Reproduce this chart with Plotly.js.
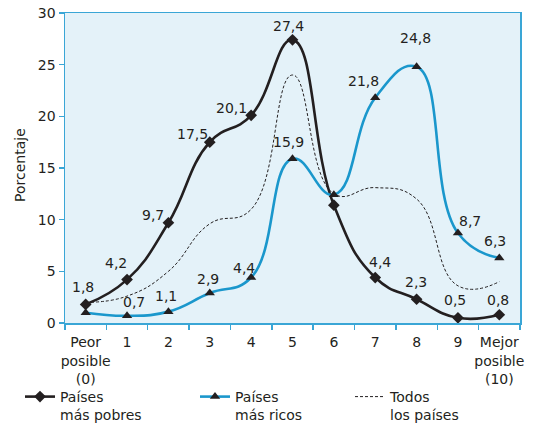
<!DOCTYPE html>
<html>
<head>
<meta charset="utf-8">
<script src="https://cdn.plot.ly/plotly-3.0.1.min.js"></script>
<style>html,body{margin:0;padding:0;background:#fff;}#chart{width:538px;height:438px;}</style>
</head>
<body>
<div id="chart"></div>
<script>
// ---- data ----
var categories = ["Peor<br>posible<br>(0)", "1", "2", "3", "4", "5", "6", "7", "8", "9", "Mejor<br>posible<br>(10)"];
var pobres = [1.8, 4.2, 9.7, 17.5, 20.1, 27.4, 11.4, 4.4, 2.3, 0.5, 0.8];
var ricos = [1.0, 0.7, 1.1, 2.9, 4.4, 15.9, 12.4, 21.8, 24.8, 8.7, 6.3];
var todos = [2.0, 2.6, 5.0, 9.6, 11.0, 24.0, 12.5, 13.1, 12.0, 3.6, 4.0];
var pobresLabels = ["1,8", "4,2", "9,7", "17,5", "20,1", "27,4", "", "4,4", "2,3", "0,5", "0,8"];
var ricosLabels = ["", "0,7", "1,1", "2,9", "4,4", "15,9", "", "21,8", "24,8", "8,7", "6,3"];
var seriesNames = ["Países<br>más pobres", "Países<br>más ricos", "Todos<br>los países"];
var yTitle = "Porcentaje";

// ---- styles ----
var txt = "#231f20", blue = "#1a97cc", frame = "#3aa6d6";
var FONT = "DejaVu Sans";
var pobresShift = [[-3,17],[-11,17],[-15,8],[-17,8],[-20,7],[-4,14],null,[5,16],[-1,17],[-3,18],[-1,15]];
var ricosShift = [null,[7,14],[-2,16],[-2,14],[-7,10],[-4,17],null,[-12,17],[-1,29],[12,12],[-4,17]];

var traces = [
  {x: categories, y: pobres, name: seriesNames[0], type: "scatter", mode: "lines+markers",
   line: {color: txt, width: 2.6, shape: "spline", smoothing: 1.3}, marker: {symbol: "diamond", size: 9, color: txt},
   legend: "legend", hoverinfo: "skip"},
  {x: categories, y: ricos, name: seriesNames[1], type: "scatter", mode: "lines+markers",
   line: {color: blue, width: 2.6, shape: "spline", smoothing: 1.3}, marker: {symbol: "triangle-up", size: 9, color: txt},
   legend: "legend2", hoverinfo: "skip"},
  {x: categories, y: todos, name: seriesNames[2], type: "scatter", mode: "lines",
   line: {color: txt, width: 1, dash: "3px,2px", shape: "spline", smoothing: 1.3},
   legend: "legend3", hoverinfo: "skip"}
];

var annotations = [];
function addLabels(vals, labels, shifts) {
  for (var i = 0; i < vals.length; i++) {
    if (!labels[i]) continue;
    annotations.push({x: i, y: vals[i], xref: "x", yref: "y", text: labels[i], showarrow: false,
      xanchor: "center", yanchor: "middle", xshift: shifts[i][0], yshift: shifts[i][1],
      font: {family: FONT, size: 14, color: txt}});
  }
}
addLabels(pobres, pobresLabels, pobresShift);
addLabels(ricos, ricosLabels, ricosShift);
// y-axis title (as a rotated annotation so it stays put with fixed margins)
annotations.push({xref: "paper", yref: "paper", x: (20 - 65) / 455, y: 0.51, text: yTitle, textangle: -90,
  showarrow: false, xanchor: "center", yanchor: "middle", font: {family: FONT, size: 14, color: txt}});

function legendAt(xpx) {
  return {orientation: "v", xref: "container", yref: "container", x: xpx / 538, xanchor: "left",
    y: 1 - 381 / 438, yanchor: "top", valign: "top",
    bgcolor: "rgba(0,0,0,0)", font: {family: FONT, size: 14, color: txt}, borderwidth: 0};
}

var layout = {
  width: 538, height: 438,
  margin: {l: 65, r: 18, t: 13, b: 115, autoexpand: false},
  paper_bgcolor: "#ffffff", plot_bgcolor: "#e4f2f9",
  font: {family: FONT, size: 14, color: txt},
  showlegend: true,
  legend: legendAt(20),
  legend2: legendAt(195),
  legend3: legendAt(350),
  xaxis: {type: "category", range: [-0.5, 10.5], tickson: "boundaries", ticks: "outside", ticklen: 5,
    ticklabelstandoff: 6,
    tickangle: 0, tickcolor: frame, tickwidth: 1.5, showline: true, linecolor: frame, linewidth: 1.5, mirror: true,
    showgrid: false, zeroline: false, tickfont: {family: FONT, size: 14, color: txt}, fixedrange: true},
  yaxis: {range: [0, 30], dtick: 5, ticks: "outside", ticklen: 5, tickcolor: frame, tickwidth: 1.5,
    showline: true, linecolor: frame, linewidth: 1.5, mirror: true, showgrid: false, zeroline: false,
    tickfont: {family: FONT, size: 14, color: txt}, fixedrange: true},
  annotations: annotations
};

Plotly.newPlot("chart", traces, layout, {displayModeBar: false, staticPlot: true});
</script>
</body>
</html>
